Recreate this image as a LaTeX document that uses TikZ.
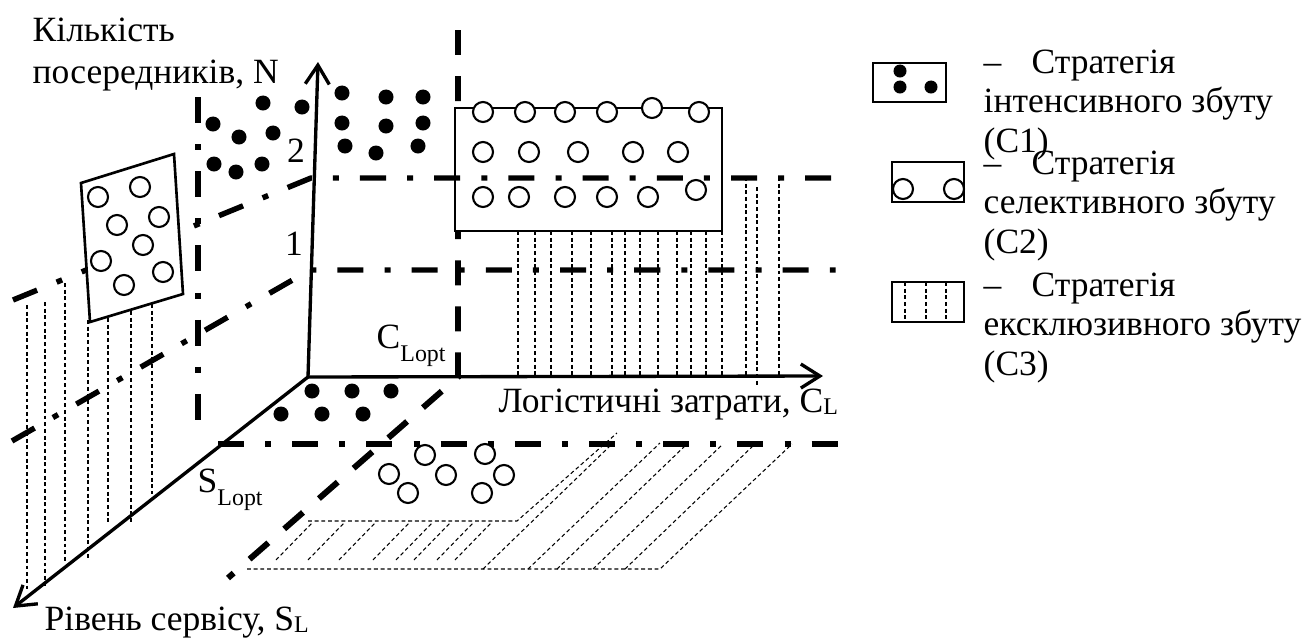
\documentclass[tikz,border=0pt]{standalone}
\usepackage{fontspec}
\setmainfont{Liberation Serif}
\usetikzlibrary{arrows.meta,positioning}

% 下标 Lopt 与 L
\newcommand{\sublopt}{\raisebox{-0.38em}{\fontsize{6.8}{7}\selectfont Lopt}}
\newcommand{\subl}{\raisebox{-0.06em}{\fontsize{6.8}{7}\selectfont L}}

\tikzset{
  axisline/.style={line width=0.95pt, -{Straight Barb[length=1.9mm,width=2.4mm,line width=0.95pt]}},
  levelline/.style={line width=1.55pt, dash pattern=on 7.4pt off 6pt on 1.7pt off 6pt},
  optline/.style={line width=1.7pt, dash pattern=on 7.1pt off 6pt},
  hatchline/.style={line width=0.3pt, dash pattern=on 1.1pt off 0.8pt},
  opencirc/.style={line width=0.6pt, fill=white},
  fulldot/.style={fill=black},
  stratbox/.style={line width=0.75pt, fill=white},
  lbl/.style={font=\fontsize{10.1}{11.1}\selectfont, inner sep=0pt, align=left}
}

\begin{document}
\begin{tikzpicture}[x=0.01cm,y=-0.01cm]
        % 画布大小
        \useasboundingbox (0,0) rectangle (1314,642);
        % 原点与三根轴的端点
        \coordinate (O) at (308,377);
        \coordinate (Ntip) at (318,62);
        \coordinate (Ctip) at (823,376);
        \coordinate (Stip) at (13,608);
        \coordinate (Copt) at (458,377);
        % 左侧墙面上的竖直细虚线 (C3)
        \draw[hatchline] (27,305) -- (27,590) (45,302) -- (45,586) (65,283) -- (65,563)
            (88,320) -- (88,560) (108,318) -- (108,522) (131,311) -- (131,522) (152,304) -- (152,494);
        % 右侧墙面上的竖直细虚线 (C3)
        \draw[hatchline] (518,231) -- (518,377) (535,231) -- (535,377) (551,231) -- (551,377)
            (572,231) -- (572,377) (591,231) -- (591,377) (612,231) -- (612,377)
            (625,231) -- (625,377) (640,231) -- (640,377) (658,231) -- (658,377)
            (677,231) -- (677,377) (691,231) -- (691,377) (706,231) -- (706,377)
            (722,231) -- (722,377) (746,177) -- (746,377) (757,187) -- (757,386)
            (779,177) -- (779,377);
        % 底面上的斜线区域 (C3)
        \draw[hatchline] (308,521) -- (517,521) -- (617,433);
        \draw[hatchline] (247,569) -- (660,569) -- (792,444);
        \draw[hatchline] (483,569) -- (612,444) (528,569) -- (660,443) (557,569) -- (687,444)
            (593,569) -- (723,444) (625,569) -- (755,444);
        \draw[hatchline] (276,560) -- (312,523) (308,560) -- (344,523) (339,560) -- (375,523)
            (373,560) -- (409,523) (396,560) -- (432,523) (414,560) -- (450,523)
            (437,560) -- (473,523) (455,560) -- (491,523);
        % C_Lopt 的虚线及其在底面上的延长
        \draw[optline] (458,30) -- (Copt) -- (228,578);
        % 右上方的矩形 (C2)
        \draw[stratbox] (455,108) rectangle (722,231);
        % 点划线: 两个等级、S_Lopt 以及左侧竖线
        \draw[levelline] (13,300) -- (311,178) -- (843,178);
        \draw[levelline] (12,441) -- (310,270) -- (840,270);
        \draw[levelline] (198,97) -- (198,440);
        \draw[levelline] (218,444) -- (843,444);
        % 左侧倾斜的矩形 (C2)
        \draw[stratbox] (81,183) -- (174,154) -- (183,294) -- (90,322) -- cycle;
        % 三根坐标轴
        \draw[axisline] (O) -- (Ntip);
        \draw[axisline] (O) -- (Ctip);
        \draw[axisline] (O) -- (Stip);
        % 空心圆 (C2)
        \draw[opencirc] (483,112) circle (0.1cm) (525,112) circle (0.1cm) (565,112) circle (0.1cm)
            (607,112) circle (0.1cm) (652,108) circle (0.1cm) (699,112) circle (0.1cm)
            (483,152) circle (0.1cm) (529,152) circle (0.1cm) (578,152) circle (0.1cm)
            (633,152) circle (0.1cm) (678,152) circle (0.1cm)
            (483,197) circle (0.1cm) (519,197) circle (0.1cm) (565,197) circle (0.1cm)
            (607,197) circle (0.1cm) (648,197) circle (0.1cm) (696,190) circle (0.1cm);
        \draw[opencirc] (98,197) circle (0.1cm) (140,187) circle (0.1cm) (117,225) circle (0.1cm)
            (159,217) circle (0.1cm) (143,245) circle (0.1cm) (101,261) circle (0.1cm)
            (163,272) circle (0.1cm) (124,285) circle (0.1cm);
        \draw[opencirc] (425,455) circle (0.1cm) (485,454) circle (0.1cm) (389,474) circle (0.1cm)
            (446,475) circle (0.1cm) (504,475) circle (0.1cm) (408,493) circle (0.1cm)
            (482,493) circle (0.1cm);
        % 实心点 (C1)
        \fill[fulldot] (263,103) circle (0.075cm) (302,107) circle (0.075cm) (213,124) circle (0.075cm)
            (239,137) circle (0.075cm) (273,133) circle (0.075cm) (214,164) circle (0.075cm)
            (236,172) circle (0.075cm) (262,164) circle (0.075cm);
        \fill[fulldot] (342,93) circle (0.075cm) (386,97) circle (0.075cm) (423,97) circle (0.075cm)
            (342,123) circle (0.075cm) (386,126) circle (0.075cm) (423,123) circle (0.075cm)
            (345,146) circle (0.075cm) (376,153) circle (0.075cm) (418,146) circle (0.075cm);
        \fill[fulldot] (312,391) circle (0.075cm) (352,391) circle (0.075cm) (391,391) circle (0.075cm)
            (281,414) circle (0.075cm) (322,414) circle (0.075cm) (363,414) circle (0.075cm);
        % 轴与刻度的文字 (多行文字按最后一行的基线放置)
        \node[lbl, anchor=base west] (ntitle) at (32,83) {Кількість\\[0.6pt]посередників, N};
        \node[lbl, anchor=base] (lev2) at (296,162) {2};
        \node[lbl, anchor=base] (lev1) at (294,255) {1};
        \node[lbl, anchor=base west] (coptlbl) at (376,348) {C\sublopt};
        \node[lbl, anchor=base west] (soptlbl) at (197,492) {S\sublopt};
        \node[lbl, anchor=base west] (clbl) at (498,412) {Логістичні затрати, C\subl};
        \node[lbl, anchor=base west] (slbl) at (44,630) {Рівень сервісу, S\subl};
        % 图例
        \draw[stratbox] (873,63) rectangle (946,102);
        \fill[fulldot] (900,71) circle (0.065cm) (900,87) circle (0.065cm) (931,87) circle (0.065cm);
        \node[lbl, anchor=base west] (leg1) at (983,152) {–\hspace{0.85em}Стратегія\\інтенсивного збуту\\(C1)};
        \draw[stratbox] (892,162) rectangle (964,202);
        \draw[opencirc] (903,189) circle (0.1cm) (954,189) circle (0.1cm);
        \node[lbl, anchor=base west] (leg2) at (983,253) {–\hspace{0.85em}Стратегія\\селективного збуту\\(C2)};
        \draw[stratbox] (892,282) rectangle (964,322);
        \draw[hatchline] (905,282) -- (905,322) (926,282) -- (926,322) (946,282) -- (946,322);
        \node[lbl, anchor=base west] (leg3) at (983,375) {–\hspace{0.85em}Стратегія\\ексклюзивного збуту\\(C3)};
\end{tikzpicture}
\end{document}
